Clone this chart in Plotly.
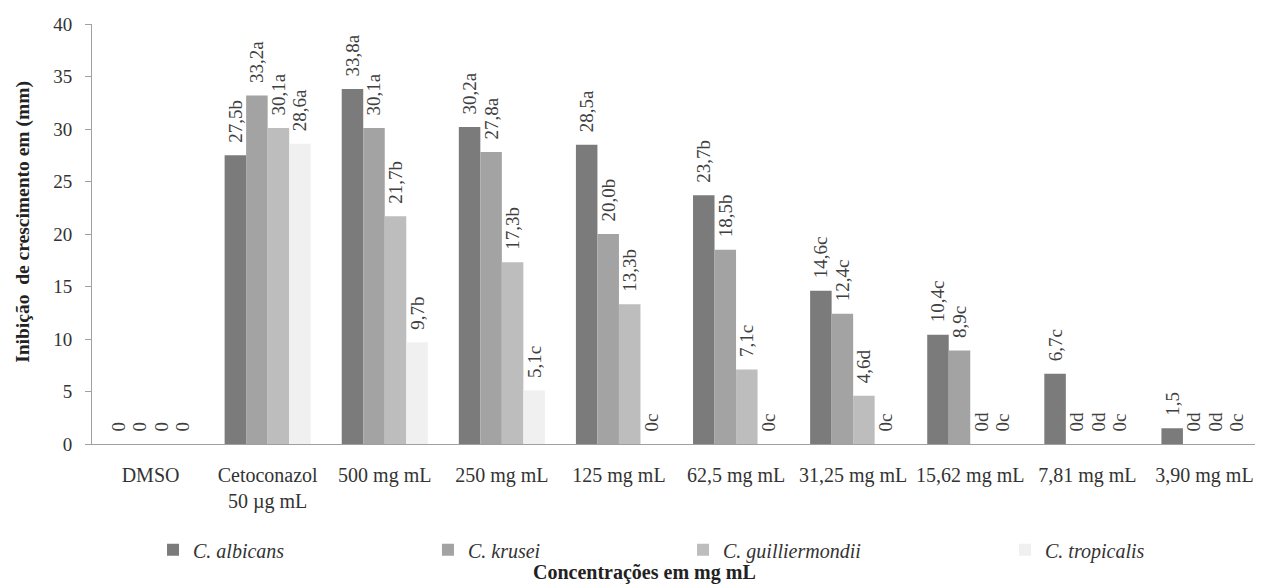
import plotly.graph_objects as go

categories = ["DMSO", "Cetoconazol<br>50 µg mL", "500 mg mL", "250 mg mL", "125 mg mL",
              "62,5 mg mL", "31,25 mg mL", "15,62 mg mL", "7,81 mg mL", "3,90 mg mL"]

series_names = ["C. albicans", "C. krusei", "C. guilliermondii", "C. tropicalis"]

albicans = [0, 27.5, 33.8, 30.2, 28.5, 23.7, 14.6, 10.4, 6.7, 1.5]
albicans_lbl = ["0", "27,5b", "33,8a", "30,2a", "28,5a", "23,7b", "14,6c", "10,4c", "6,7c", "1,5"]

krusei = [0, 33.2, 30.1, 27.8, 20.0, 18.5, 12.4, 8.9, 0, 0]
krusei_lbl = ["0", "33,2a", "30,1a", "27,8a", "20,0b", "18,5b", "12,4c", "8,9c", "0d", "0d"]

guilliermondii = [0, 30.1, 21.7, 17.3, 13.3, 7.1, 4.6, 0, 0, 0]
guilliermondii_lbl = ["0", "30,1a", "21,7b", "17,3b", "13,3b", "7,1c", "4,6d", "0d", "0d", "0d"]

tropicalis = [0, 28.6, 9.7, 5.1, 0, 0, 0, 0, 0, 0]
tropicalis_lbl = ["0", "28,6a", "9,7b", "5,1c", "0c", "0c", "0c", "0c", "0c", "0c"]

values = [albicans, krusei, guilliermondii, tropicalis]
labels = [albicans_lbl, krusei_lbl, guilliermondii_lbl, tropicalis_lbl]
colors = ["#7b7b7b", "#a3a3a3", "#bdbdbd", "#f0f0f0"]
legend_ids = ["legend", "legend2", "legend3", "legend4"]
legend_x = [0.0521, 0.2869, 0.5047, 0.7797]

SERIF = "Liberation Serif"

fig = go.Figure()
for name, vals, lbls, col, lid in zip(series_names, values, labels, colors, legend_ids):
    fig.add_trace(go.Bar(
        x=categories, y=vals, name=name, marker=dict(color=col, line=dict(width=0)),
        text=lbls, texttemplate="\u00a0\u00a0%{text}",
        textposition="outside", textangle=-90, constraintext="none",
        cliponaxis=False,
        textfont=dict(family=SERIF, size=19, color="#404040"),
        legend=lid, showlegend=True,
    ))

layout_legends = {}
for lid, lx in zip(legend_ids, legend_x):
    layout_legends[lid] = dict(
        x=lx, y=-0.252, xanchor="left", yanchor="middle", orientation="h",
        font=dict(family=SERIF, size=20, color="#333333", style="italic"),
        bgcolor="rgba(0,0,0,0)", itemwidth=30,
    )

fig.update_layout(
    width=1255, height=576,
    margin=dict(l=84, r=0, t=16, b=140, autoexpand=False),
    paper_bgcolor="white", plot_bgcolor="white",
    barmode="group", bargap=0.265, bargroupgap=0,
    font=dict(family=SERIF, size=15, color="#333333"),
    xaxis=dict(
        automargin=False,
        showline=True, linecolor="#a0a0a0", linewidth=1,
        ticks="", showgrid=False, ticklabelstandoff=13,
        tickfont=dict(family=SERIF, size=20, color="#333333"),
    ),
    yaxis=dict(
        automargin=False,
        range=[0, 40], dtick=5, showline=True, linecolor="#a0a0a0", linewidth=1,
        ticks="outside", ticklen=6, tickcolor="#a0a0a0", showgrid=False, zeroline=False,
        ticklabelstandoff=9,
        tickfont=dict(family=SERIF, size=19, color="#333333"),
    ),
    annotations=[
        dict(text="<b>Concentrações em mg mL</b>", xref="paper", yref="paper",
             x=0.472, y=-0.305, xanchor="center", yanchor="middle", showarrow=False,
             font=dict(family=SERIF, size=20, color="#222222")),
        dict(text="<b>Inibição  de crescimento em (mm)</b>", xref="paper", yref="paper",
             x=-0.0589, y=0.529, xanchor="center", yanchor="middle", showarrow=False,
             textangle=-90, font=dict(family=SERIF, size=19.5, color="#222222")),
    ],
    **layout_legends,
)

fig.write_html("out.html")
